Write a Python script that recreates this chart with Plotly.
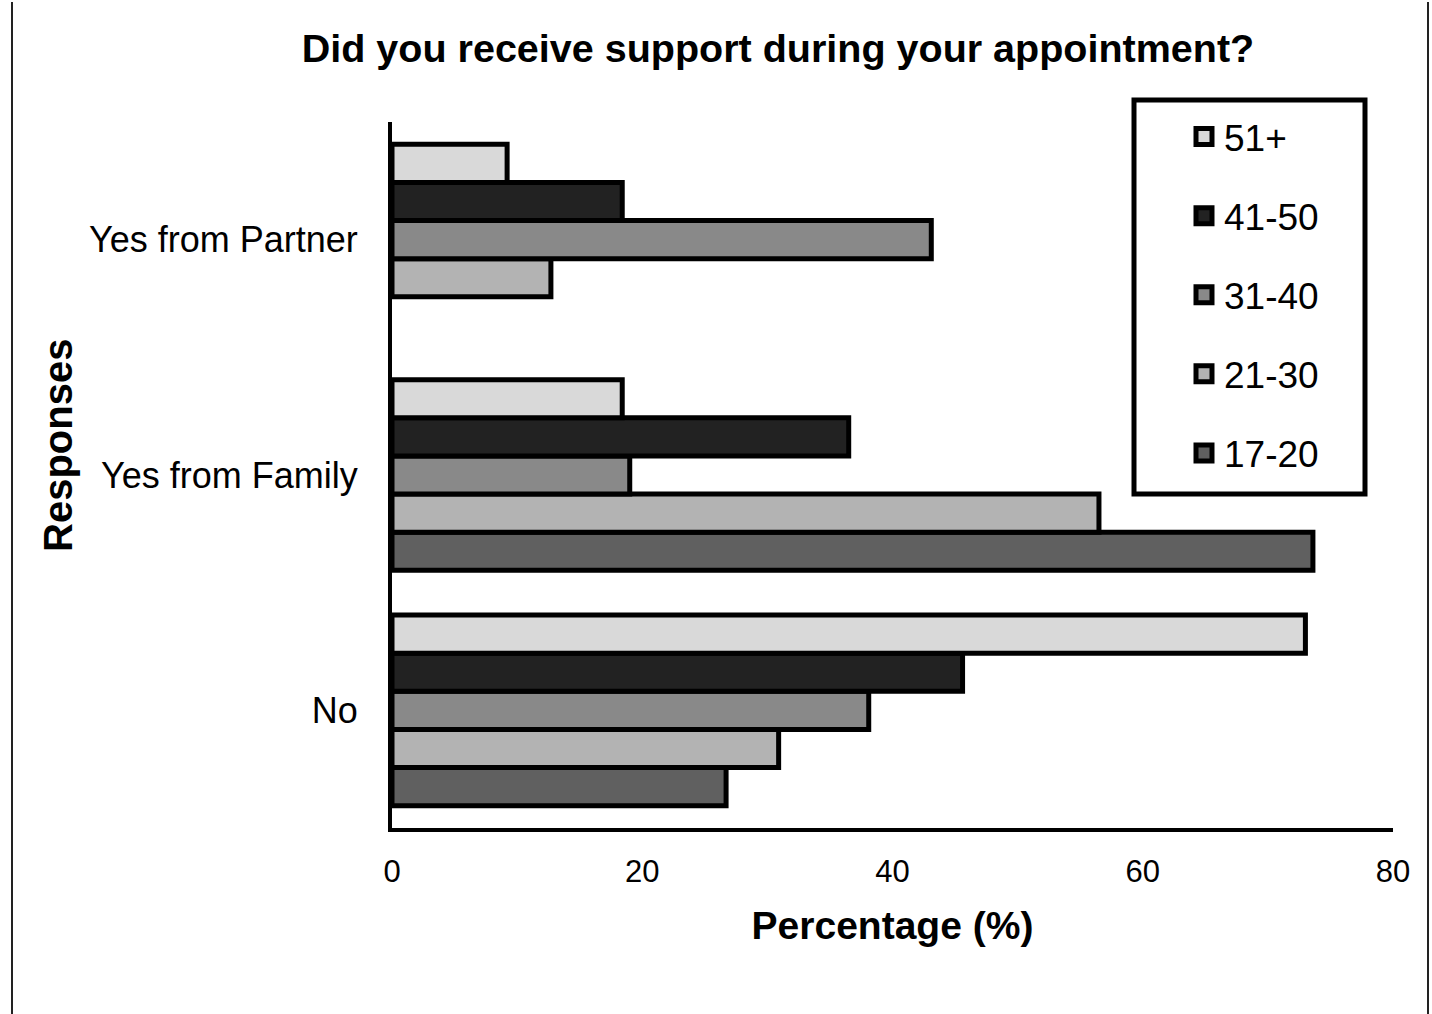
import plotly.graph_objects as go

# Survey responses (y categories, bottom to top)
responses = ["No", "Yes from Family", "Yes from Partner"]

# Percentage of each age group giving each response
age_groups = ["17-20", "21-30", "31-40", "41-50", "51+"]
pct_17_20 = [26.7, 73.6, None]
pct_21_30 = [30.9, 56.5, 12.7]
pct_31_40 = [38.1, 19.0, 43.1]
pct_41_50 = [45.6, 36.5, 18.4]
pct_51_plus = [73.0, 18.4, 9.2]

series = [pct_17_20, pct_21_30, pct_31_40, pct_41_50, pct_51_plus]
fills = ["#606060", "#b3b3b3", "#898989", "#222222", "#d9d9d9"]

x_ticks = [0, 20, 40, 60, 80]

W, H = 1432, 1014
L, R, T, B = 392, 39, 122, 186
pw, ph = W - L - R, H - T - B

def px_x(px):
    return (px - L) / pw

def px_y(py):
    return (H - B - py) / ph

FONT = "Liberation Sans, Arial, sans-serif"

fig = go.Figure()
n = len(age_groups)
for i, (name, vals, col) in enumerate(zip(age_groups, series, fills)):
    fig.add_trace(go.Bar(
        y=responses, x=vals, name=name, orientation="h",
        marker=dict(color=col, line=dict(color="black", width=5)),
        legendgroup=name, showlegend=False,
    ))
    # legend key: square swatch with a heavy outline (oldest group listed first)
    fig.add_trace(go.Scatter(
        x=[None], y=[None], mode="markers", name=name, legendgroup=name,
        legendrank=n - i,
        marker=dict(symbol="square", size=16, color=col,
                    line=dict(color="black", width=5)),
        hoverinfo="skip",
    ))

# page edge rules
for xp in (12, 1428):
    fig.add_shape(type="line", xref="paper", yref="paper",
                  x0=px_x(xp), x1=px_x(xp), y0=px_y(2), y1=px_y(1014),
                  line=dict(color="#222222", width=2))

# legend frame
fig.add_shape(type="rect", xref="paper", yref="paper",
              x0=px_x(1134), x1=px_x(1365), y0=px_y(100), y1=px_y(494),
              line=dict(color="black", width=5), fillcolor="white", layer="below")

fig.add_annotation(text="<b>Responses</b>", textangle=-90, showarrow=False,
                   xref="paper", yref="paper", x=px_x(58), y=px_y(446),
                   xanchor="center", yanchor="middle",
                   font=dict(family=FONT, size=40, color="black"))

fig.update_layout(
    width=W, height=H,
    margin=dict(l=L, r=R, t=T, b=B),
    paper_bgcolor="white", plot_bgcolor="rgba(0,0,0,0)",
    barmode="group", bargap=0.19, bargroupgap=0,
    font=dict(family=FONT, color="black", size=35),
    title=dict(text="<b>Did you receive support during your appointment?</b>",
               xref="container", yref="container", x=778 / W, y=1 - 48 / H,
               xanchor="center", yanchor="middle",
               font=dict(family=FONT, size=39.5, color="black")),
    xaxis=dict(range=[0, 80], tickvals=x_ticks, showgrid=False, zeroline=False,
               showline=True, linecolor="black", linewidth=4,
               ticks="", ticklabelstandoff=13,
               tickfont=dict(family=FONT, size=31),
               title=dict(text="<b>Percentage (%)</b>", standoff=24,
                          font=dict(family=FONT, size=39))),
    yaxis=dict(range=[-0.5, 2.5], showgrid=False, zeroline=False,
               showline=True, linecolor="black", linewidth=4,
               ticks="", ticklabelstandoff=23,
               tickfont=dict(family=FONT, size=36)),
    legend=dict(x=px_x(1184), y=px_y(106), xanchor="left", yanchor="top",
                traceorder="grouped", borderwidth=0,
                bgcolor="rgba(0,0,0,0)", tracegroupgap=28,
                font=dict(family=FONT, size=37)),
    showlegend=True,
)

fig.write_html("out.html")
